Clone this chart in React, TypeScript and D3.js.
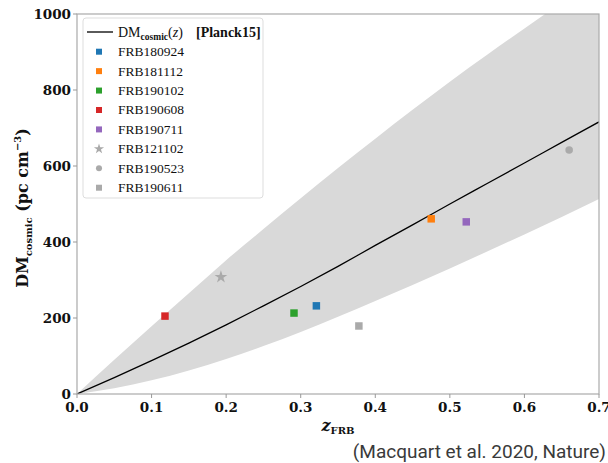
import React from "react";
import * as d3 from "d3";

// FRB host redshifts and cosmic DM estimates
const frbNames = ["FRB180924", "FRB181112", "FRB190102", "FRB190608", "FRB190711", "FRB121102", "FRB190523", "FRB190611"];
const frbZ = [0.321, 0.475, 0.291, 0.118, 0.522, 0.193, 0.66, 0.378];
const frbDM = [232, 461, 213, 205, 453, 308, 642, 179];
const frbShapes = ["square", "square", "square", "square", "square", "star", "circle", "square"];

// Macquart relation and its spread
const curveZ = [0, 0.05, 0.1, 0.15, 0.2, 0.25, 0.3, 0.35, 0.4, 0.45, 0.5, 0.55, 0.6, 0.65, 0.7];
const meanDM = [0, 43, 88, 134, 182, 232, 283, 336, 391, 445, 500, 554, 608, 662, 716];
const upperDM = [0, 90, 178, 265, 352, 434, 515, 595, 672, 748, 822, 893, 962, 1030, 1095];
const lowerDM = [0, 15, 36, 62, 92, 126, 163, 203, 245, 287, 330, 375, 420, 466, 513];

const xTicks = [0, 0.1, 0.2, 0.3, 0.4, 0.5, 0.6, 0.7];
const yTicks = [0, 200, 400, 600, 800, 1000];

const colors = ["#1f77b4", "#ff7f0e", "#2ca02c", "#d62728", "#9467bd", "#aaaaaa", "#aaaaaa", "#aaaaaa"];

const W = 608;
const H = 463;
const left = 77, right = 599, top = 14, bottom = 394;
const serif = "'DejaVu Serif', serif";
const lserif = "'Liberation Serif', serif";

function marker(shape: string, size: number) {
  if (shape === "star") return d3.symbol(d3.symbolStar, size * 0.9)();
  if (shape === "circle") return d3.symbol(d3.symbolCircle, size * 0.8)();
  return d3.symbol(d3.symbolSquare, size)();
}

export default function App() {
  const x = d3.scaleLinear().domain([0, 0.7]).range([left, right]);
  const y = d3.scaleLinear().domain([0, 1000]).range([bottom, top]);

  const band = d3
    .area<number>()
    .x((d, i) => x(curveZ[i]))
    .y0((d, i) => y(lowerDM[i]))
    .y1((d, i) => y(upperDM[i]))
    .curve(d3.curveMonotoneX);
  const line = d3
    .line<number>()
    .x((d, i) => x(curveZ[i]))
    .y((d) => y(d))
    .curve(d3.curveMonotoneX);

  const legendRows = frbNames.map((n, i) => ({ name: n, shape: frbShapes[i], color: colors[i] }));

  return (
    <svg width={W} height={H} style={{ position: "absolute", left: 0, top: 0, background: "#fff" }}>
      <defs>
        <clipPath id="plotClip">
          <rect x={left} y={top} width={right - left} height={bottom - top} />
        </clipPath>
      </defs>

      <g clipPath="url(#plotClip)">
        <path d={band(curveZ) || ""} fill="#d9d9d9" />
        <path d={line(meanDM) || ""} fill="none" stroke="#000" strokeWidth={1.3} />
        {frbZ.map((z, i) => (
          <path
            key={frbNames[i]}
            d={marker(frbShapes[i], 56) || ""}
            transform={`translate(${x(z)},${y(frbDM[i])})`}
            fill={colors[i]}
          />
        ))}
      </g>

      {/* frame */}
      <rect x={left} y={top} width={right - left} height={bottom - top} fill="none" stroke="#aaa" strokeWidth={1.2} />

      {/* x axis */}
      {xTicks.map((t) => (
        <g key={"x" + t}>
          <line x1={x(t)} x2={x(t)} y1={bottom} y2={bottom + 4} stroke="#999" />
          <text x={x(t)} y={bottom + 18} textAnchor="middle" fontFamily={serif} fontWeight="bold" fontSize={13.5} fill="#111">
            {t.toFixed(1)}
          </text>
        </g>
      ))}
      {/* y axis */}
      {yTicks.map((t) => (
        <g key={"y" + t}>
          <line x1={left - 4} x2={left} y1={y(t)} y2={y(t)} stroke="#999" />
          <text x={left - 6} y={y(t) + 5} textAnchor="end" fontFamily={serif} fontWeight="bold" fontSize={13.5} fill="#111">
            {t}
          </text>
        </g>
      ))}

      {/* axis labels */}
      <text x={(left + right) / 2} y={431} textAnchor="middle" fontFamily={serif} fill="#111">
        <tspan fontStyle="italic" fontWeight="bold" fontSize={16}>z</tspan>
        <tspan fontSize={10} fontWeight="bold" dy={3}>FRB</tspan>
      </text>
      <text
        transform={`translate(28,${(top + bottom) / 2 + 4}) rotate(-90)`}
        textAnchor="middle"
        fontFamily={serif}
        fontWeight="bold"
        fill="#111"
      >
        <tspan fontSize={16}>DM</tspan>
        <tspan fontSize={10} dy={4}>cosmic</tspan>
        <tspan fontSize={16} dy={-4}> (pc cm</tspan>
        <tspan fontSize={10} dy={-7}>−3</tspan>
        <tspan fontSize={16} dy={7}>)</tspan>
      </text>

      {/* legend */}
      <rect x={83} y={18} width={180} height={180} rx={3} fill="#fff" fillOpacity={0.85} stroke="#ddd" />
      <line x1={87} x2={113} y1={32} y2={32} stroke="#000" strokeWidth={1.3} />
      <text x={118} y={37} fontFamily={lserif} fontSize={14} fill="#111">
        DM<tspan fontSize={9.5} fontWeight="bold" dy={3}>cosmic</tspan>
        <tspan dy={-3}>(</tspan>
        <tspan fontStyle="italic">z</tspan>)
        <tspan x={196} fontWeight="bold">[Planck15]</tspan>
      </text>
      {legendRows.map((r, i) => {
        const ly = 51.7 + i * 19.43;
        return (
          <g key={r.name}>
            <path d={marker(r.shape, 36) || ""} transform={`translate(99,${ly})`} fill={r.color} />
            <text x={118} y={ly + 4.5} fontFamily={lserif} fontSize={13.5} fill="#111">
              {r.name}
            </text>
          </g>
        );
      })}

      {/* source note */}
      <text x={606} y={458} textAnchor="end" fontFamily="Roboto, 'Noto Sans', sans-serif" fontSize={19} fill="#3a3a3a">
        (Macquart et al. 2020, Nature)
      </text>
    </svg>
  );
}
